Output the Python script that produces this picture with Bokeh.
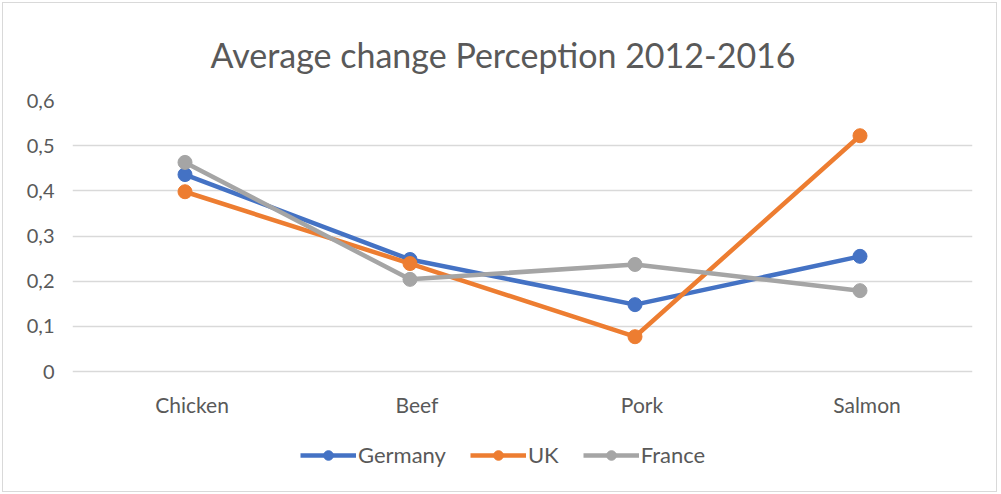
from bokeh.plotting import figure
from bokeh.models import Legend, LegendItem, CustomJSTickFormatter, FixedTicker, Title
from bokeh.core.properties import value
from bokeh.embed import file_html
from bokeh.resources import INLINE

categories = ["Chicken", "Beef", "Pork", "Salmon"]
germany = [0.436, 0.248, 0.148, 0.255]
uk = [0.398, 0.239, 0.077, 0.522]
france = [0.463, 0.204, 0.237, 0.179]
series_names = ["Germany", "UK", "France"]
colors = ["#4472C4", "#ED7D31", "#A5A5A5"]
y_ticks = [0, 0.1, 0.2, 0.3, 0.4, 0.5, 0.6]

FONT = "Lato"
TXT = "#595959"

# y range extended below zero so that category labels and legend sit inside the frame
Y_TOP = 0.6
Y_BOTTOM = -0.2413

p = figure(x_range=categories, y_range=(Y_BOTTOM, Y_TOP),
           frame_width=900, frame_height=380, x_axis_location=None,
           output_backend="svg", toolbar_location=None,
           min_border_left=72, min_border_right=27, min_border_top=100, min_border_bottom=14)
p.x_range.range_padding = 0
p.outline_line_color = None
p.background_fill_color = "white"
p.border_fill_color = "white"
p.border_fill_alpha = 0
p.styles = {"outline": "1.5px solid #D9D9D9", "outline-offset": "-3px"}

t = Title(text="Average change Perception 2012-2016", align="left",
          text_font=FONT, text_font_size="34px", text_font_style="normal",
          text_color=TXT, offset=138, standoff=52)
p.add_layout(t, "above")
p.title.visible = False

p.xgrid.grid_line_color = None
p.ygrid.grid_line_color = "#D9D9D9"
p.ygrid.grid_line_width = 1.5
p.yaxis.ticker = FixedTicker(ticks=y_ticks)
p.yaxis.formatter = CustomJSTickFormatter(code="return tick === 0 ? '0' : tick.toFixed(1).replace('.', ',');")
p.yaxis.axis_line_color = None
p.yaxis.major_tick_line_color = None
p.yaxis.minor_tick_line_color = None
p.yaxis.major_tick_out = 0
p.yaxis.major_tick_in = 0
p.yaxis.major_label_text_font = FONT
p.yaxis.major_label_text_font_size = "20px"
p.yaxis.major_label_text_color = TXT
p.yaxis.major_label_standoff = 18

# category labels placed just under the zero line
p.text(x=categories, y=[0] * len(categories), text=categories,
       text_font=value(FONT), text_font_size="21px", text_color=TXT,
       text_align="center", text_baseline="top", x_offset=7, y_offset=20)

items = []
for name, vals, c in zip(series_names, [germany, uk, france], colors):
    r1 = p.line(categories, vals, line_color=c, line_width=4.5)
    r2 = p.scatter(categories, vals, size=14, fill_color=c, line_color=c)
    items.append(LegendItem(label=name, renderers=[r1, r2]))

legend = Legend(items=items, orientation="horizontal", location=(228, 12),
                label_text_font=FONT, label_text_font_size="22px", label_text_color=TXT,
                border_line_color=None, background_fill_alpha=0,
                glyph_width=56, glyph_height=24, spacing=24, label_standoff=2,
                padding=0, margin=0)
p.add_layout(legend, "center")

open("out.html", "w").write(file_html(p, INLINE))
